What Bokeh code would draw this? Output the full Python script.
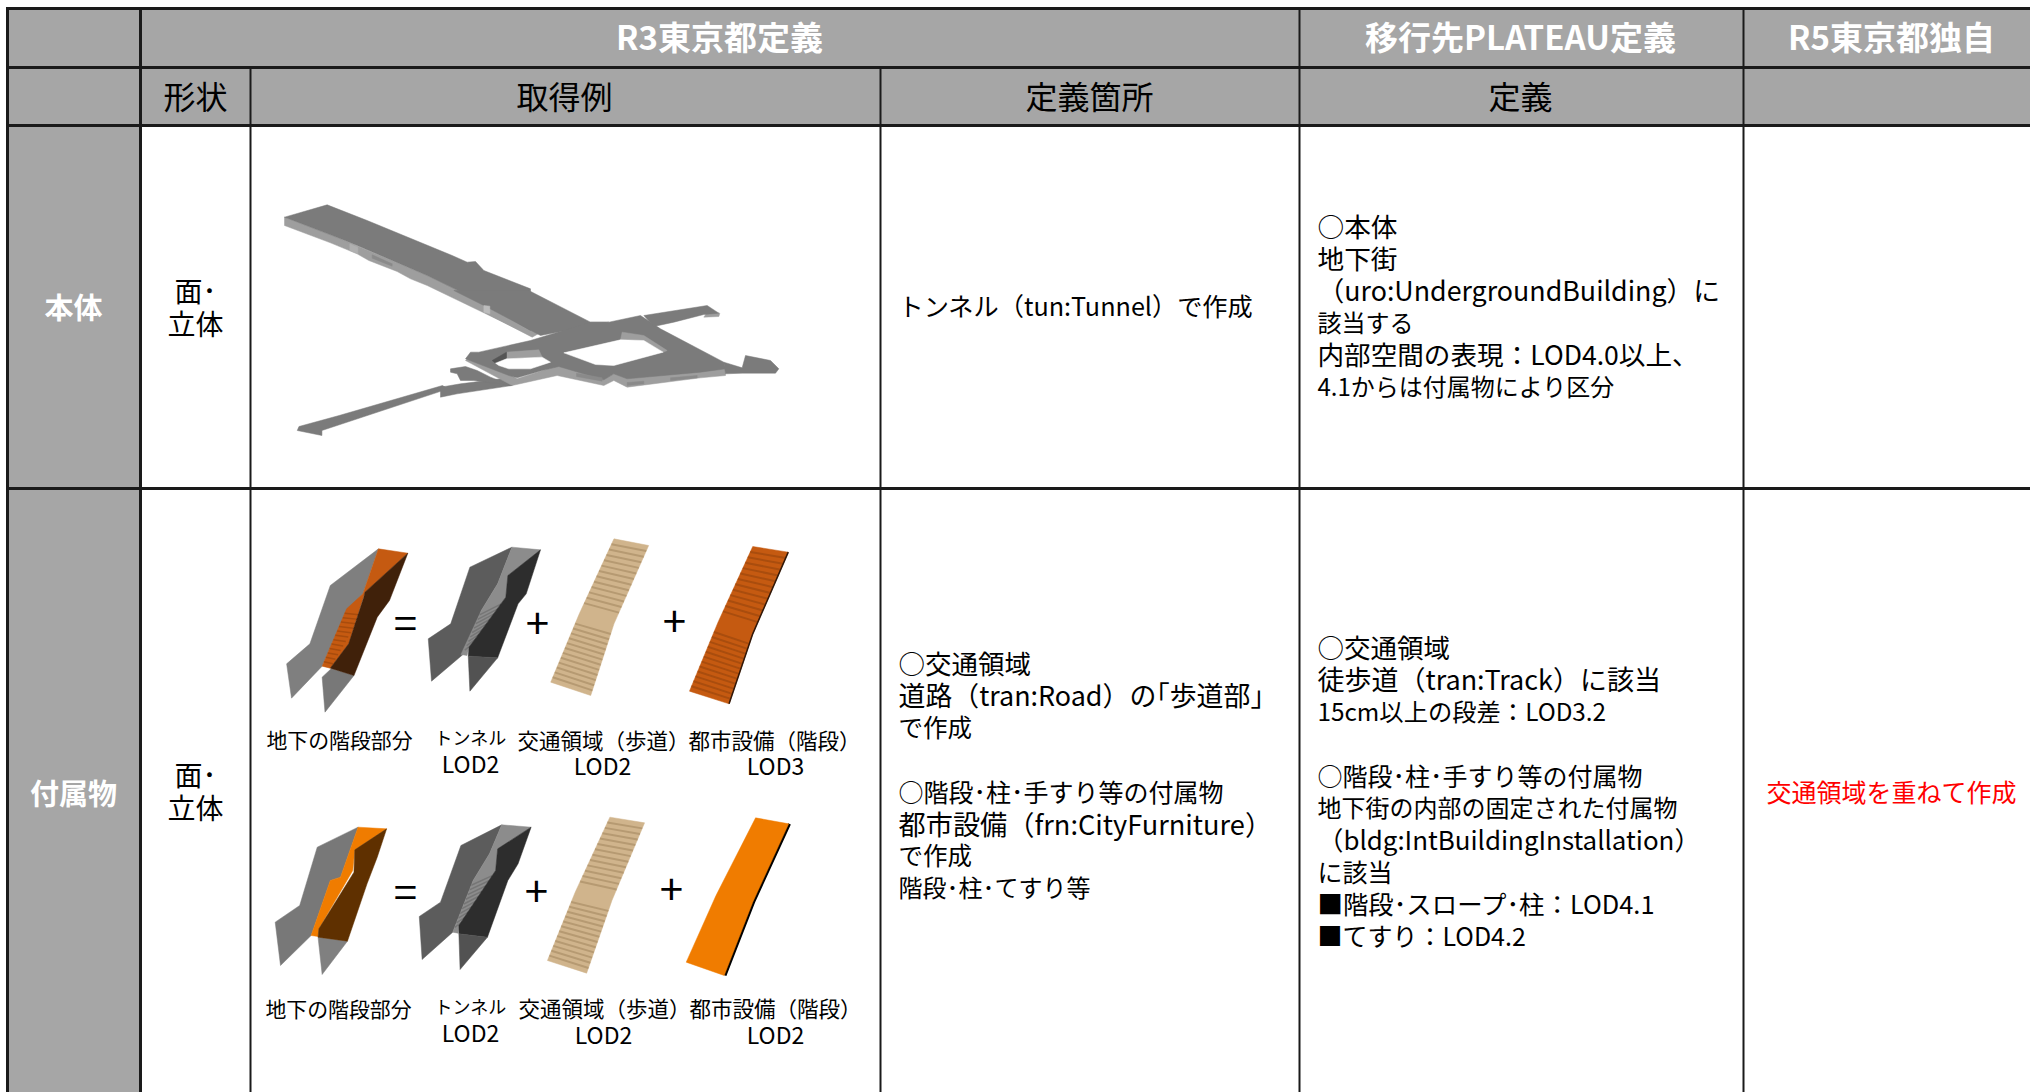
from bokeh.plotting import figure
from bokeh.models import Range1d
from bokeh.core.properties import value
from bokeh.embed import file_html
from bokeh.resources import INLINE

FONT = "Noto Sans CJK JP"
GREY = "#a6a6a6"

# table structure (page pixels)
col_edges = [7, 140, 250, 880, 1299, 1743]
row_edges = [8, 67, 125, 488]
PAGE_W, PAGE_H = 2030, 1092

header_top = [("R3東京都定義", 719), ("移行先PLATEAU定義", 1520), ("R5東京都独自", 1891)]
header_sub = [("形状", 195), ("取得例", 564), ("定義箇所", 1089), ("定義", 1520)]
side_labels = [("本体", 308), ("付属物", 794)]
shape_label = [("面･", 292), ("立体", 325), ("面･", 776), ("立体", 809)]

body_def_a = ["トンネル（tun:Tunnel）で作成"]
body_def_a_size = [25.2]
body_def_b = ["○本体", "地下街", "（uro:UndergroundBuilding）に", "該当する",
              "内部空間の表現：LOD4.0以上、", "4.1からは付属物により区分"]
body_def_b_size = [26.7, 26.7, 26.8, 24, 26.6, 24]
acc_def_a = ["○交通領域", "道路（tran:Road）の｢歩道部｣", "で作成", "",
             "○階段･柱･手すり等の付属物", "都市設備（frn:CityFurniture）", "で作成", "階段･柱･てすり等"]
acc_def_a_size = [26.5, 26.9, 24.5, 0, 25, 27.2, 24.5, 24]
acc_def_b = ["○交通領域", "徒歩道（tran:Track）に該当", "15cm以上の段差：LOD3.2", "",
             "○階段･柱･手すり等の付属物", "地下街の内部の固定された付属物",
             "（bldg:IntBuildingInstallation）", "に該当", "■階段･スロープ･柱：LOD4.1", "■てすり：LOD4.2"]
acc_def_b_size = [26.5, 27, 24.3, 0, 25, 24, 25.9, 25, 25.4, 25]
red_note = "交通領域を重ねて作成"

p = figure(width=PAGE_W, height=PAGE_H, x_range=Range1d(0, PAGE_W), y_range=Range1d(PAGE_H, 0),
           output_backend="svg", toolbar_location=None, min_border=0, outline_line_color=None)
p.axis.visible = False
p.grid.visible = False
p.background_fill_color = "white"
p.border_fill_color = "white"


def txt(x, y, s, size, color="black", bold=False, align="center"):
    p.text([x], [y - 3], text=[s], text_font=value(FONT), text_font_size=f"{size}px", text_color=color,
           text_align=align, text_baseline="middle", text_font_style="bold" if bold else "normal")


def poly(zoom, pts, color, alpha=1.0):
    ox, oy, sx, sy = zoom
    p.patch([ox + a / sx for a, _ in pts], [oy + b / sy for _, b in pts], fill_color=color,
            fill_alpha=alpha, line_color=color, line_alpha=alpha, line_width=0.5)


def along(line, t):
    n = len(line) - 1
    i = min(int(t * n), n - 1)
    f = t * n - i
    return (line[i][0] + (line[i + 1][0] - line[i][0]) * f, line[i][1] + (line[i + 1][1] - line[i][1]) * f)


def stripes(zoom, left, right, n, color, width=2.0, alpha=1.0, skip=None):
    ox, oy, sx, sy = zoom
    xs, ys = [], []
    for k in range(1, n):
        t = k / n
        if skip and skip[0] < t < skip[1]:
            continue
        a, b = along(left, t), along(right, t)
        xs.append([ox + a[0] / sx, ox + b[0] / sx])
        ys.append([oy + a[1] / sy, oy + b[1] / sy])
    p.multi_line(xs, ys, line_color=color, line_width=width, line_alpha=alpha)


# header and side fills
p.quad(left=[col_edges[0]], right=[PAGE_W], top=[row_edges[0]], bottom=[row_edges[2]], fill_color=GREY, line_color=None)
p.quad(left=[col_edges[0]], right=[col_edges[1]], top=[row_edges[2]], bottom=[PAGE_H], fill_color=GREY, line_color=None)

# ---- tunnel body illustration
Z1 = (0, 0, 1568 / 900, 3)
ZA = (270, 195, 3, 3)
ZB = (440, 290, 3, 3)
SIDE = "#9e9e9e"
TOP = "#7b7b7b"
# long arm
poly(ZA, [(42, 65), (42, 90), (180, 142), (260, 175), (295, 195), (380, 228), (420, 250), (470, 270), (640, 352),
          (780, 420), (780, 400), (650, 328), (470, 240), (180, 118)], SIDE)
poly(ZB, [(0, 0), (130, 65), (275, 140), (302, 125), (130, 45), (40, 0)], SIDE)
poly(ZA, [(42, 65), (170, 28), (290, 75), (545, 180), (590, 200), (615, 198), (640, 225), (780, 280), (780, 405),
          (650, 328), (470, 240), (260, 150), (180, 118)], TOP)
poly(ZB, [(265, 0), (450, 95), (505, 95), (300, 135), (130, 45), (40, 0)], TOP)
poly(ZA, [(238, 145), (262, 155), (262, 175), (238, 165)], "#b0b0b0")
poly(ZA, [(305, 178), (365, 205), (365, 212), (305, 188)], "#8a8a8a")
poly(ZA, [(640, 330), (658, 332), (658, 355), (640, 350)], "#bcbcbc")
# south-west arm
poly(Z1, [(780, 1165), (560, 1290), (560, 1305), (517, 1290), (520, 1278), (590, 1245), (770, 1155)], TOP)
poly(ZB, [(0, 290), (60, 280), (220, 260), (215, 285), (50, 310), (0, 320)], TOP)
poly(ZB, [(30, 235), (75, 228), (110, 240), (150, 260), (215, 285), (100, 270), (60, 270), (50, 250), (30, 245)], TOP)
# ring around the two courtyards
poly(ZB, [(75, 210), (215, 285), (350, 255), (490, 285), (520, 270), (560, 290), (780, 262), (855, 255), (855, 230),
          (700, 240), (520, 250), (490, 265), (355, 225), (230, 265), (90, 195)], SIDE)
poly(ZB, [(270, 150), (450, 95), (505, 95), (600, 75), (660, 115), (850, 215), (855, 235), (780, 245), (560, 265),
          (520, 250), (490, 268), (355, 228), (305, 240), (230, 262), (205, 255), (75, 205), (90, 185), (115, 185)], TOP)
poly(ZB, [(545, 125), (610, 135), (680, 180), (668, 185), (610, 150), (540, 148)], SIDE)
poly(ZB, [(370, 187), (540, 148), (610, 150), (668, 185), (520, 225), (465, 222)], "#ffffff")
poly(ZB, [(198, 185), (295, 178), (305, 200), (198, 205)], SIDE)
poly(ZB, [(155, 210), (198, 185), (198, 205), (165, 218)], "#555555")
poly(ZB, [(165, 218), (198, 205), (305, 200), (330, 215), (270, 235), (205, 235), (175, 225)], "#ffffff")
poly(ZB, [(408, 258), (485, 272), (485, 262), (408, 248)], "#8a8a8a")
poly(ZB, [(560, 285), (610, 280), (610, 272), (560, 276)], "#8a8a8a")
poly(ZB, [(690, 270), (770, 262), (770, 255), (690, 262)], "#8a8a8a")
# east arm and tail
poly(ZB, [(800, 65), (838, 68), (835, 78), (790, 80)], SIDE)
poly(ZB, [(610, 75), (800, 45), (835, 68), (790, 72), (700, 95), (640, 108)], TOP)
poly(ZB, [(850, 215), (905, 232), (915, 195), (965, 205), (990, 210), (1015, 235), (1005, 248), (905, 248), (855, 250)], TOP)

# ---- stair illustrations, upper row
Z2 = (240, 500, 1568 / 640, 3)
poly(Z2, [(113, 490), (170, 430), (220, 255), (338, 145), (300, 280), (260, 330), (200, 497), (125, 593)], "#7f7f7f")
poly(Z2, [(200, 530), (222, 505), (278, 525), (207, 635)], "#787878")
poly(Z2, [(338, 145), (410, 158), (305, 275), (265, 430), (220, 503), (200, 497), (260, 325), (300, 280)], "#c55a11")
stripes(Z2, [(260, 325), (200, 497)], [(302, 330), (220, 503)], 13, "#a84c0d", 1.5)
poly(Z2, [(410, 158), (305, 275), (302, 290), (265, 430), (220, 503), (278, 525), (335, 350), (365, 300)], "#40210a")

poly(Z2, [(460, 415), (515, 370), (562, 200), (665, 140), (630, 250), (590, 330), (545, 462), (468, 542)], "#5c5c5c")
poly(Z2, [(665, 140), (735, 148), (655, 225), (650, 290), (560, 440), (555, 465), (540, 462), (590, 330), (630, 250)], "#8c8c8c")
stripes(Z2, [(590, 330), (545, 462)], [(648, 295), (560, 445)], 10, "#767676", 1.5)
poly(Z2, [(735, 148), (655, 225), (650, 290), (560, 440), (558, 467), (630, 472), (680, 310), (700, 280)], "#2d2d2d")
poly(Z2, [(558, 467), (630, 472), (562, 572)], "#525252")

TAN_L = [(915, 115), (830, 340), (760, 545)]
TAN_R = [(1000, 135), (915, 370), (858, 585)]
poly(Z2, TAN_L + [(858, 585)] + TAN_R[::-1], "#d0b48c")
stripes(Z2, TAN_L, TAN_R, 28, "#b69a72", 2.0, skip=(0.46, 0.56))

OR_L = [(1255, 138), (1170, 365), (1100, 572)]
OR_R = [(1342, 155), (1255, 400), (1197, 610)]
poly(Z2, OR_L + [(1197, 610)] + OR_R[::-1], "#c55a11")
stripes(Z2, OR_L, OR_R, 28, "#a94d0e", 2.0, skip=(0.46, 0.56))
p.line([240 + a / Z2[2] for a, _ in OR_R], [500 + b / 3 for _, b in OR_R], line_color="#30180a", line_width=1.5)

# ---- stair illustrations, lower row
Z3 = (240, 790, 1568 / 640, 3)
poly(Z3, [(85, 395), (145, 345), (188, 170), (288, 110), (245, 260), (220, 270), (173, 435), (98, 525)], "#787878")
poly(Z3, [(190, 440), (262, 452), (200, 552)], "#808080")
poly(Z3, [(288, 110), (358, 115), (280, 178), (275, 240), (192, 415), (190, 438), (173, 435), (220, 270), (245, 260)], "#f07c00")
poly(Z3, [(358, 115), (280, 178), (278, 245), (192, 415), (190, 440), (262, 452), (310, 280), (335, 200)], "#5f3000")

poly(Z3, [(438, 378), (490, 335), (540, 165), (640, 103), (610, 190), (570, 270), (520, 425), (445, 507)], "#5c5c5c")
poly(Z3, [(640, 103), (712, 110), (630, 175), (625, 240), (535, 405), (533, 428), (520, 425), (570, 270), (610, 190)], "#8c8c8c")
stripes(Z3, [(570, 270), (520, 425)], [(625, 240), (535, 410)], 11, "#767676", 1.5)
poly(Z3, [(712, 110), (630, 175), (625, 240), (535, 405), (535, 430), (605, 440), (655, 270), (680, 220)], "#2d2d2d")
poly(Z3, [(535, 430), (605, 440), (538, 537)], "#525252")

TAN2_L = [(905, 80), (820, 305), (752, 510)]
TAN2_R = [(990, 97), (910, 330), (848, 548)]
poly(Z3, TAN2_L + [(848, 548)] + TAN2_R[::-1], "#d0b48c")
stripes(Z3, TAN2_L, TAN2_R, 28, "#b69a72", 2.0, skip=(0.46, 0.56))

OR2_L = [(1262, 82), (1165, 315), (1092, 515)]
OR2_R = [(1343, 100), (1255, 335), (1185, 555)]
p.line([240 + (a + 2) / Z3[2] for a, _ in OR2_R], [790 + b / 3 for _, b in OR2_R], line_color="black", line_width=3)
poly(Z3, OR2_L + [(1185, 555)] + OR2_R[::-1], "#f07c00")

# operators
for x, y, s in [(405, 623, "="), (537, 626, "+"), (674, 624, "+"), (405, 892, "="), (536, 894, "+"), (671, 892, "+")]:
    txt(x, y, s, 42)

# illustration captions
caps = [(339, 741, "地下の階段部分", 20.9), (470, 739, "トンネル", 18), (470, 765, "LOD2", 23), (603, 742, "交通領域（歩道）", 21.5),
        (602, 767, "LOD2", 23), (774, 742, "都市設備（階段）", 21.5), (775, 767, "LOD3", 23),
        (338, 1010, "地下の階段部分", 20.9), (470, 1008, "トンネル", 18), (470, 1034, "LOD2", 23), (604, 1010, "交通領域（歩道）", 21.5),
        (603, 1036, "LOD2", 23), (775, 1010, "都市設備（階段）", 21.5), (775, 1036, "LOD2", 23)]
for x, y, s, size in caps:
    txt(x, y, s, size)

# grid lines
for y in row_edges:
    p.line([col_edges[0], PAGE_W], [y, y], line_color="#1a1a1a", line_width=3)
for x, top, w in [(col_edges[0], 6.5, 3), (col_edges[1], 6.5, 3), (col_edges[2], 67, 2), (col_edges[3], 67, 2), (col_edges[4], 6.5, 2), (col_edges[5], 6.5, 2)]:
    p.line([x, x], [top, PAGE_H], line_color="#1a1a1a", line_width=w)

# texts
for s, x in header_top:
    txt(x, 38, s, 33, "white", True)
for s, x in header_sub:
    txt(x, 97, s, 32)
for s, y in side_labels:
    txt(73, y, s, 29, "white", True)
for s, y in shape_label:
    txt(195, y, s, 28)

LH = 32
for lines, sizes, x, y0 in [(body_def_a, body_def_a_size, 898, 307), (body_def_b, body_def_b_size, 1317, 228),
                            (acc_def_a, acc_def_a_size, 898, 665), (acc_def_b, acc_def_b_size, 1317, 649)]:
    for i, (s, size) in enumerate(zip(lines, sizes)):
        if s:
            txt(x, y0 + i * LH, s, size, align="left")
txt(1766, 793, red_note, 25, "#ff0000", align="left")

open("out.html", "w").write(file_html(p, INLINE))
